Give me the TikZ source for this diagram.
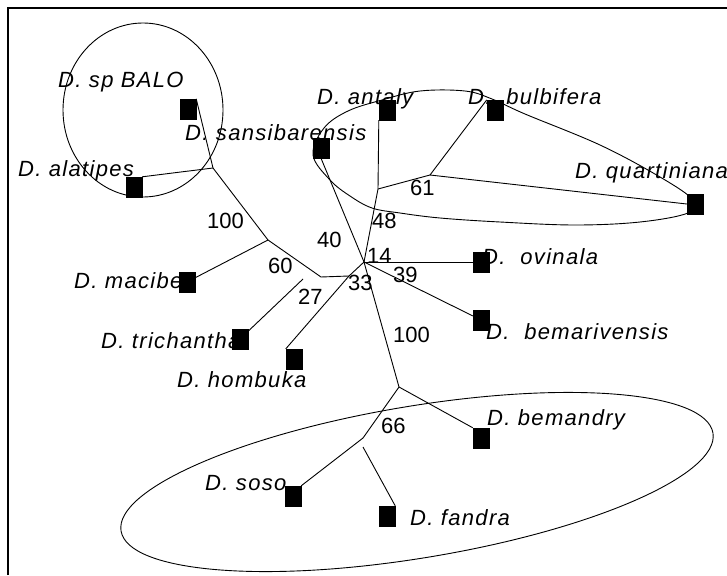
\documentclass[tikz,border=0pt]{standalone}
\usepackage{fontspec}
\setmainfont{Liberation Sans}
\newfontfamily\labfont[LetterSpace=6]{Liberation Sans}
\usetikzlibrary{calc}

\begin{document}
\begin{tikzpicture}[x=1pt,y=-1pt]
	\path [use as bounding box] (0,0) rectangle (727,575);
	\tikzstyle{leaf} = [rectangle, fill, draw, minimum width=16pt, minimum height=20pt, inner sep=0pt]
	\tikzstyle{taxon} = [anchor=base west, inner sep=0pt, font=\labfont\itshape\fontsize{22}{24}\selectfont]
	\tikzstyle{boot} = [anchor=base west, inner sep=0pt, font=\fontsize{22}{24}\selectfont]
	\tikzstyle{branch} = [line width=0.9pt]
	\draw[line width=1.8pt] (8,575) -- (8,8) -- (727,8);
	% leaves
	\node[leaf] (spBALO) at (188,109) {};
	\node[leaf] (alatipes) at (134,187) {};
	\node[leaf] (macibe) at (187,282) {};
	\node[leaf] (trichantha) at (240,339) {};
	\node[leaf] (hombuka) at (294,359) {};
	\node[leaf] (sansibar) at (321,148) {};
	\node[leaf] (antaly) at (387,110) {};
	\node[leaf] (bulbifera) at (495,110) {};
	\node[leaf] (quartin) at (695,204) {};
	\node[leaf] (ovinala) at (481,262) {};
	\node[leaf] (bemariv) at (481,320) {};
	\node[leaf] (bemandry) at (481,438) {};
	\node[leaf] (soso) at (293,496) {};
	\node[leaf] (fandra) at (387,516) {};
	% inner points
	\coordinate (n1) at (213,168);
	\coordinate (n2) at (268,240);
	\coordinate (n3) at (321,277);
	\coordinate (n4) at (303,279);
	\coordinate (j) at (349,276);
	\coordinate (c) at (364,262);
	\coordinate (n5) at (378,189);
	\coordinate (n61) at (430,175);
	\coordinate (n6) at (399,387);
	\coordinate (n7) at (363,438);
	\coordinate (n8) at (363,447);
	% branches
	\draw[branch] (spBALO.north east) -- (n1);
	\draw[branch] (alatipes.north east) -- (n1);
	\draw[branch] (n1) -- (n2);
	\draw[branch] (n2) -- (macibe);
	\draw[branch] (n2) -- (n3);
	\draw[branch] (n3) -- (j);
	\draw[branch] (n4) -- (trichantha);
	\draw[branch] (hombuka.north west) -- (j);
	\draw[branch] (j) -- (c);
	\draw[branch] (c) -- (sansibar.south);
	\draw[branch] (c) -- (n5);
	\draw[branch] (n5) -- (antaly.south west);
	\draw[branch] (n5) -- (n61);
	\draw[branch] (n61) -- (bulbifera.north west);
	\draw[branch] (n61) -- (quartin.west);
	\draw[branch] (c) -- (ovinala.west);
	\draw[branch] (c) -- (bemariv);
	\draw[branch] (c) -- (n6);
	\draw[branch] (n6) -- (bemandry.north west);
	\draw[branch] (n6) -- (n7);
	\draw[branch] (n7) -- (soso.north east);
	\draw[branch] (n8) -- (fandra.north east);
	% groups
	\draw[branch] (143,110) ellipse [x radius=80, y radius=87];
	\draw[branch] plot[smooth cycle, tension=0.6] coordinates {(313,155) (324,128) (348,111) (382,100) (420,91) (465,91) (492,99) (525,114) (600,145) (660,177) (693,200) (688,213) (640,222) (575,225) (500,222) (440,218) (400,213) (372,208) (350,196) (330,180)};
	\draw[branch] (417,482) ellipse [x radius=300, y radius=76, rotate=9.4];
	% names
	\node[taxon] (tBALO) at (58,88) {D. sp BALO};
	\node[taxon] (talatipes) at (18,176) {D. alatipes};
	\node[taxon] (tmacibe) at (74,288) {D. macibe};
	\node[taxon] (ttrichantha) at (101,348) {D. trichantha};
	\node[taxon] (thombuka) at (177,387) {D. hombuka};
	\node[taxon] (tsansibar) at (185,140) {D. sansibarensis};
	\node[taxon] (tantaly) at (317,104) {D. antaly};
	\node[taxon] (tbulbifera) at (468,104) {D.~~bulbifera};
	\node[taxon] (tquartin) at (575,178) {D. quartiniana};
	\node[taxon] (tovinala) at (482,264) {D.~~ovinala};
	\node[taxon] (tbemariv) at (486,339) {D.~~bemarivensis};
	\node[taxon] (tbemandry) at (487,425) {D. bemandry};
	\node[taxon] (tsoso) at (205,490) {D. soso};
	\node[taxon] (tfandra) at (410,525) {D. fandra};
	% support values
	\node[boot] (b1) at (207,228) {100};
	\node[boot] (b2) at (317,247) {40};
	\node[boot] (b3) at (268,273) {60};
	\node[boot] (b4) at (298,304) {27};
	\node[boot] (b5) at (348,290) {33};
	\node[boot] (b6) at (367,263) {14};
	\node[boot] (b7) at (393,282) {39};
	\node[boot] (b8) at (372,228) {48};
	\node[boot] (b9) at (410,195) {61};
	\node[boot] (b10) at (393,342) {100};
	\node[boot] (b11) at (381,433) {66};
\end{tikzpicture}
\end{document}
